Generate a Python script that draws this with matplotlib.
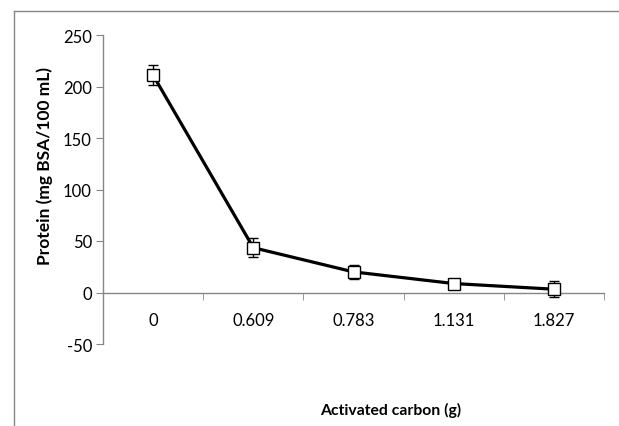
import matplotlib.pyplot as plt
from matplotlib.lines import Line2D

# data
carbon = ["0", "0.609", "0.783", "1.131", "1.827"]
protein = [211, 43.5, 20, 8.7, 3.2]
err = [9.5, 9, 7, 4.5, 8]

plt.rcParams['font.family'] = ['Lato', 'DejaVu Sans']
plt.rcParams['axes.unicode_minus'] = False

W, H = 619, 427
fig = plt.figure(figsize=(W / 100, H / 100), dpi=100)
# axes box in pixels: left 103, right 604, top 36, bottom 345
ax = fig.add_axes([103 / W, 1 - 345 / H, (604 - 103) / W, (345 - 36) / H])

x = list(range(len(carbon)))
ax.errorbar(x, protein, yerr=err, color='black', lw=2.3, ecolor='black',
            elinewidth=1.0, capsize=3.5, capthick=1.0,
            marker='s', markersize=8.5, markerfacecolor='white',
            markeredgecolor='black', markeredgewidth=1.0, zorder=3)

ax.set_ylim(-50, 250)
ax.set_xlim(-0.5, len(carbon) - 0.5)
ax.set_yticks([-50, 0, 50, 100, 150, 200, 250])

ax.spines['top'].set_visible(False)
ax.spines['right'].set_visible(False)
ax.spines['bottom'].set_position(('data', 0))
for s in ['left', 'bottom']:
    ax.spines[s].set_color('#868686')
    ax.spines[s].set_linewidth(1.0)

ax.set_xticks(x)
ax.set_xticklabels(carbon)
ax.set_xticks([i - 0.5 for i in range(len(carbon) + 1)], minor=True)
ax.tick_params(axis='x', which='major', length=0, pad=14, labelsize=12)
ax.tick_params(axis='x', which='minor', length=5, color='#868686', direction='out')
ax.tick_params(axis='y', length=5, color='#868686', direction='out', labelsize=12, pad=3)

fig.text(45 / W, 1 - 166 / H, 'Protein (mg BSA/100 mL)', rotation=90,
         ha='center', va='center', fontsize=12.5, fontweight='bold')
fig.text(391 / W, 1 - 410 / H, 'Activated carbon (g)', ha='center', va='center',
         fontsize=11.3, fontweight='bold')

# outer chart border (left and top edges visible)
fig.add_artist(Line2D([14 / W, 14 / W], [0, 1 - 12 / H], transform=fig.transFigure,
                      color='#868686', lw=1.0))
fig.add_artist(Line2D([14 / W, 1], [1 - 12 / H, 1 - 12 / H], transform=fig.transFigure,
                      color='#868686', lw=1.0))

fig.savefig('out.png', dpi=100)
